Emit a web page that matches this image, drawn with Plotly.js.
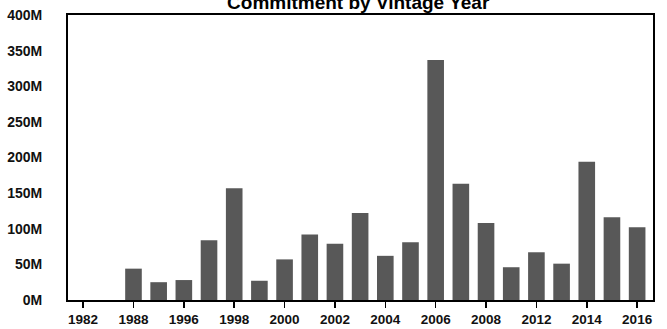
<!DOCTYPE html>
<html>
<head>
<meta charset="utf-8">
<script src="https://cdn.plot.ly/plotly-3.0.1.min.js"></script>
<style>html,body{margin:0;padding:0;background:#fff;}#chart{width:667px;height:329px;}</style>
</head>
<body>
<div id="chart"></div>
<script>
// Vintage year categories (every other one is labelled on the axis)
var vintageYears = ["1982","1987","1988","1995","1996","1997","1998","1999","2000","2001","2002","2003","2004","2005","2006","2007","2008","2011","2012","2013","2014","2015","2016"];
// Commitment in millions
var commitmentM = [0,0,44,25,28,84,157,27,57,92,79,122,62,81,337,163,108,46,67,51,194,116,102];
var labelledYears = ["1982","1988","1996","1998","2000","2002","2004","2006","2008","2012","2014","2016"];
var yTickVals = [0,50,100,150,200,250,300,350,400];
var yTickText = ["0M","50M","100M","150M","200M","250M","300M","350M","400M"];

var trace = {
  type: "bar",
  x: vintageYears,
  y: commitmentM,
  marker: {
    color: "#5f5f5f",
    line: {width: 0},
    pattern: {shape: ".", fgcolor: "#2a2a2a", bgcolor: "#7c7c7c", size: 2, solidity: 0.5}
  },
  hoverinfo: "x+y"
};

var layout = {
  width: 667, height: 329,
  margin: {l: 68, r: 14, t: 15, b: 29, pad: 0},
  paper_bgcolor: "#fff", plot_bgcolor: "#fff",
  bargap: 0.34,
  showlegend: false,
  title: {
    text: "<b>Commitment by Vintage Year</b>",
    font: {family: "Liberation Sans, Arial, sans-serif", size: 19, color: "#000"},
    x: 0.537, xref: "container", xanchor: "center",
    y: 0.993, yref: "container", yanchor: "middle"
  },
  xaxis: {
    type: "category",
    range: [-0.6, 22.63],
    tickmode: "array",
    tickvals: labelledYears,
    ticktext: labelledYears,
    ticks: "outside", ticklen: 6, tickwidth: 1.5, tickcolor: "#000",
    showline: true, linecolor: "#000", linewidth: 2, mirror: true,
    showgrid: false, zeroline: false,
    tickfont: {family: "Liberation Sans, Arial, sans-serif", size: 13.5, color: "#111", weight: "bold"}
  },
  yaxis: {
    range: [0, 400],
    tickmode: "array",
    tickvals: yTickVals,
    ticktext: yTickText,
    ticks: "",
    ticklabelstandoff: 21,
    showline: true, linecolor: "#000", linewidth: 2, mirror: true,
    showgrid: false, zeroline: false,
    tickfont: {family: "Liberation Sans, Arial, sans-serif", size: 14, color: "#111", weight: "bold"}
  }
};

Plotly.newPlot("chart", [trace], layout, {displayModeBar: false, staticPlot: true});
</script>
</body>
</html>
